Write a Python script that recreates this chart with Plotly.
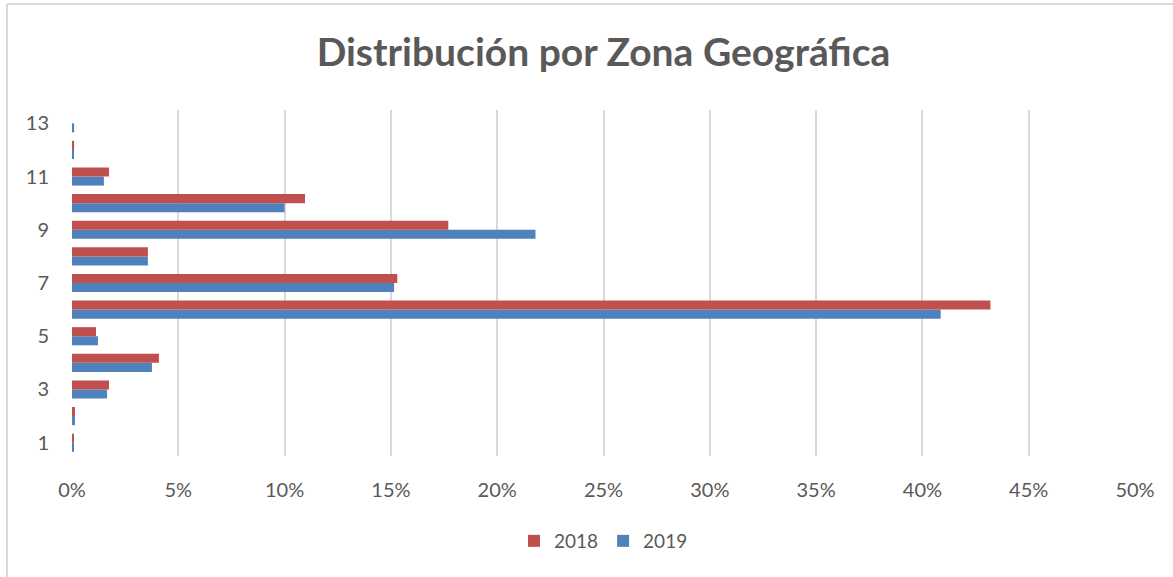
import plotly.graph_objects as go

categories = [1, 2, 3, 4, 5, 6, 7, 8, 9, 10, 11, 12, 13]
values_2018 = [0.0005, 0.0014, 0.0174, 0.0409, 0.0113, 0.432, 0.153, 0.0357, 0.177, 0.1096, 0.0174, 0.001, 0.0]
values_2019 = [0.0005, 0.0014, 0.0165, 0.0376, 0.0122, 0.4086, 0.1515, 0.0357, 0.218, 0.100, 0.015, 0.0005, 0.001]
x_ticks = [0, 0.05, 0.10, 0.15, 0.20, 0.25, 0.30, 0.35, 0.40, 0.45, 0.50]
y_ticks = [1, 3, 5, 7, 9, 11, 13]

FONT = "Lato"
GRAY = "#595959"

fig = go.Figure()
fig.add_trace(go.Bar(y=categories, x=values_2019, orientation="h", name="2019",
                     marker=dict(color="#4F81BD", line=dict(width=0)), legendrank=2))
fig.add_trace(go.Bar(y=categories, x=values_2018, orientation="h", name="2018",
                     marker=dict(color="#C0504D", line=dict(width=0)), legendrank=1))

L, R, T, B = 72, 38, 110, 121
W, H = 1173, 577
pw, ph = W - L - R, H - T - B

def px(x):
    return (x - L) / pw

def py(y):
    return (H - B - y) / ph

fig.update_layout(
    width=W, height=H,
    margin=dict(l=L, r=R, t=T, b=B),
    paper_bgcolor="white", plot_bgcolor="white",
    barmode="group", bargap=0.32, bargroupgap=0,
    title=dict(text="<b>Distribución por Zona Geográfica</b>", x=0.5, xref="paper",
               y=1 - 52 / H, yanchor="middle",
               font=dict(family=FONT, size=39, color=GRAY)),
    xaxis=dict(range=[0, 0.5], tickvals=x_ticks, tickformat=".0%",
               showgrid=True, gridcolor="#d9d9d9", gridwidth=2,
               zeroline=False, showline=False, ticks="",
               ticklabelstandoff=20,
               tickfont=dict(family=FONT, size=20, color=GRAY)),
    yaxis=dict(range=[0.5, 13.5], tickvals=y_ticks, showgrid=False,
               zeroline=False, showline=False, ticks="",
               ticklabelstandoff=22,
               tickfont=dict(family=FONT, size=20, color=GRAY)),
    legend=dict(orientation="h", x=0.5, xanchor="center", y=py(541), yanchor="middle",
                font=dict(family=FONT, size=19, color=GRAY), itemwidth=30,
                traceorder="normal"),
    shapes=[
        dict(type="line", xref="paper", yref="paper", x0=px(7), x1=px(1173), y0=py(4), y1=py(4),
             line=dict(color="#d9d9d9", width=2)),
        dict(type="line", xref="paper", yref="paper", x0=px(7), x1=px(7), y0=py(4), y1=py(577),
             line=dict(color="#d9d9d9", width=2)),
    ],
)

fig.write_html("out.html", config={"displayModeBar": False},
               post_script="document.body.style.margin='0';document.body.style.padding='0';")
